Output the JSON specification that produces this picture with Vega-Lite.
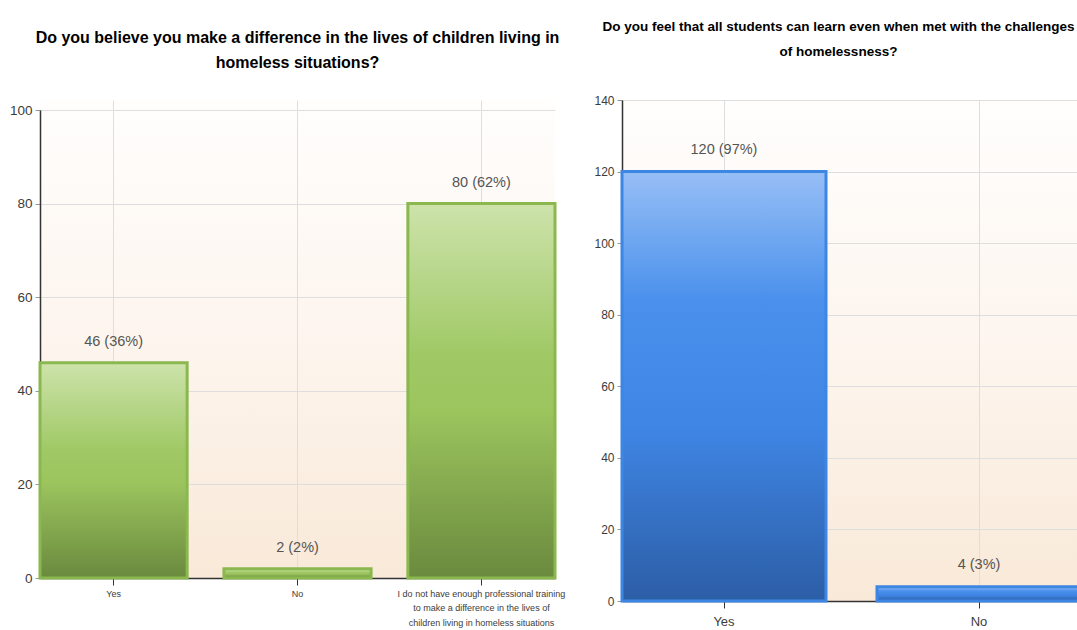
{
  "$schema": "https://vega.github.io/schema/vega-lite/v6.json",
  "padding": {"left": 9, "top": 19, "right": 0, "bottom": 0},
  "autosize": "pad",
  "background": "white",
  "bounds": "flush",
  "spacing": 67,
  "config": {
    "font": "Liberation Sans",
    "view": {
      "stroke": null,
      "fill": {"gradient": "linear", "x1": 0, "y1": 0, "x2": 0, "y2": 1, "stops": [{"offset": 0, "color": "#fffefd"}, {"offset": 0.5, "color": "#fdf5ee"}, {"offset": 1, "color": "#f9e9d8"}]}
    },
    "title": {"font": "Liberation Sans", "fontSize": 14, "fontWeight": "bold", "color": "#000000", "anchor": "middle"},
    "axis": {
      "labelFont": "Liberation Sans",
      "labelColor": "#3c3c3c",
      "gridColor": "#dedede",
      "gridWidth": 1,
      "domainColor": "#333333",
      "domainWidth": 1.5,
      "title": null
    }
  },
  "hconcat": [
    {
      "width": 515,
      "height": 478,
      "title": {"text": ["Do you believe you make a difference in the lives of children living in", "homeless situations?"], "offset": 29, "lineHeight": 25, "fontSize": 16},
      "data": {"values": [
        {"answer": "Yes", "count": 46, "label": "46 (36%)"},
        {"answer": "No", "count": 2, "label": "2 (2%)"},
        {"answer": "I do not have enough professional training to make a difference in the lives of children living in homeless situations", "count": 80, "label": "80 (62%)"}
      ]},
      "encoding": {
        "x": {"field": "answer", "type": "nominal", "sort": null,
          "scale": {"paddingInner": 0.2, "paddingOuter": 0},
          "axis": {"labelAngle": 0, "labelFontSize": 9, "labelPadding": 4, "tickColor": "#333333", "tickSize": 7, "grid": true, "labelLineHeight": 14.5, "labelLimit": 0,
            "labelExpr": "datum.label == 'Yes' || datum.label == 'No' ? datum.label : ['I do not have enough professional training', 'to make a difference in the lives of', 'children living in homeless situations']"}},
        "y": {"field": "count", "type": "quantitative",
          "scale": {"domain": [0, 100], "range": [478, 10], "nice": false},
          "axis": {"values": [0, 20, 40, 60, 80, 100], "labelFontSize": 13.5, "tickColor": "#999999", "tickSize": 5, "labelPadding": 3}}
      },
      "layer": [
        {"mark": {"type": "bar", "strokeWidth": 3, "stroke": "#8ab84f",
          "color": {"gradient": "linear", "x1": 0, "y1": 0, "x2": 0, "y2": 1, "stops": [
            {"offset": 0, "color": "#cde3ab"}, {"offset": 0.4, "color": "#a0c966"}, {"offset": 0.55, "color": "#9cc55e"}, {"offset": 1, "color": "#6a8a3e"}]}}},
        {"mark": {"type": "text", "dy": -21, "fontSize": 14.5, "color": "#555555", "baseline": "middle"},
          "encoding": {"text": {"field": "label"}}}
      ]
    },
    {
      "width": 459,
      "height": 501,
      "title": {"text": ["Do you feel that all students can learn even when met with the challenges", "of homelessness?"], "offset": 36, "lineHeight": 25, "fontSize": 13.5, "dx": -13},
      "data": {"values": [
        {"answer": "Yes", "count": 120, "label": "120 (97%)"},
        {"answer": "No", "count": 4, "label": "4 (3%)"}
      ]},
      "encoding": {
        "x": {"field": "answer", "type": "nominal", "sort": null,
          "scale": {"paddingInner": 0.2, "paddingOuter": 0},
          "axis": {"labelAngle": 0, "labelFontSize": 13, "labelPadding": 7, "tickColor": "#333333", "tickSize": 7, "grid": true}},
        "y": {"field": "count", "type": "quantitative",
          "scale": {"domain": [0, 140], "nice": false},
          "axis": {"values": [0, 20, 40, 60, 80, 100, 120, 140], "labelFontSize": 12, "tickColor": "#999999", "tickSize": 5, "labelPadding": 3}}
      },
      "layer": [
        {"mark": {"type": "bar", "strokeWidth": 3, "stroke": "#3d86e4",
          "color": {"gradient": "linear", "x1": 0, "y1": 0, "x2": 0, "y2": 1, "stops": [
            {"offset": 0, "color": "#97bff6"}, {"offset": 0.3, "color": "#4a90ec"}, {"offset": 0.6, "color": "#3f85e4"}, {"offset": 1, "color": "#2c5ea6"}]}}},
        {"mark": {"type": "text", "dy": -22, "fontSize": 14.5, "color": "#555555", "baseline": "middle"},
          "encoding": {"text": {"field": "label"}}}
      ]
    }
  ]
}
